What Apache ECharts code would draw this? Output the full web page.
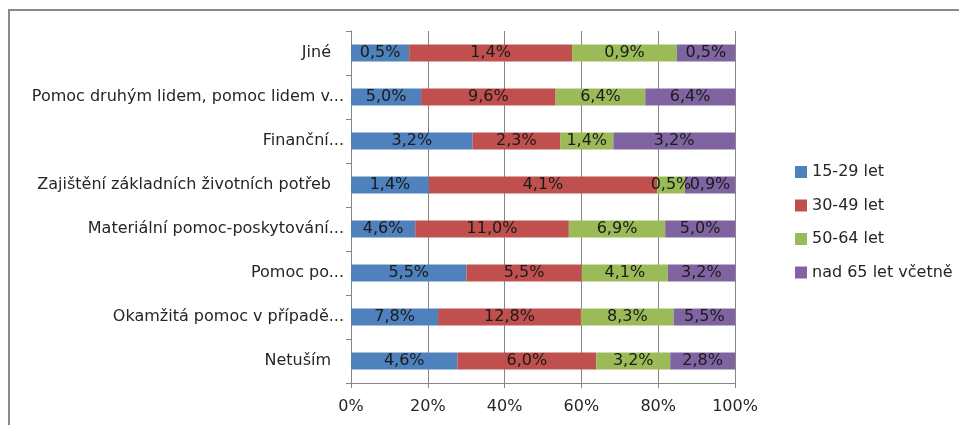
<!DOCTYPE html>
<html><head><meta charset="utf-8">
<script src="https://cdn.jsdelivr.net/npm/echarts@6/dist/echarts.min.js"></script>
<style>html,body{margin:0;padding:0;background:#fff}#c{width:959px;height:425px}</style>
</head><body><div id="c"></div>
<script>
var categories = ["Jiné", "Pomoc druhým lidem, pomoc lidem v...", "Finanční...", "Zajištění základních životních potřeb", "Materiální pomoc-poskytování...", "Pomoc po...", "Okamžitá pomoc v případě...", "Netuším"];
var seriesNames = ["15-29 let", "30-49 let", "50-64 let", "nad 65 let včetně"];
var s1529 = [0.5, 5.0, 3.2, 1.4, 4.6, 5.5, 7.8, 4.6];
var s3049 = [1.4, 9.6, 2.3, 4.1, 11.0, 5.5, 12.8, 6.0];
var s5064 = [0.9, 6.4, 1.4, 0.5, 6.9, 4.1, 8.3, 3.2];
var s65 = [0.5, 6.4, 3.2, 0.9, 5.0, 3.2, 5.5, 2.8];
var xTicks = ["0%", "20%", "40%", "60%", "80%", "100%"];
var colors = ["#4F81BD", "#C0504D", "#9BBB59", "#8064A2"];

var raw = [s1529, s3049, s5064, s65];
var totals = categories.map(function (_, i) { return raw.reduce(function (a, s) { return a + s[i]; }, 0); });
var font = "'DejaVu Sans', sans-serif";
var fs = 16;
var series = raw.map(function (arr, k) {
  return {
    name: seriesNames[k], type: 'bar', stack: 'all', barWidth: 17,
    itemStyle: { color: colors[k] },
    label: {
      show: true, position: 'inside', color: '#1a1a1a', fontFamily: font, fontSize: fs,
      formatter: function (p) { return arr[p.dataIndex].toFixed(1).replace('.', ',') + '%'; }
    },
    data: arr.map(function (v, i) { return v / totals[i] * 100; })
  };
});

var chart = echarts.init(document.getElementById('c'), null, { renderer: 'canvas' });
chart.setOption({
  animation: false,
  color: colors,
  graphic: [{ type: 'rect', shape: { x: 9, y: 10, width: 980, height: 440 }, style: { fill: 'none', stroke: '#8a8a8a', lineWidth: 2 } }],
  grid: { left: 351, right: 224, top: 31, bottom: 42 },
  legend: {
    orient: 'vertical', left: 790, top: 159, itemWidth: 12, itemHeight: 12, itemGap: 17.5,
    icon: 'rect', data: seriesNames,
    textStyle: { color: '#262626', fontFamily: font, fontSize: fs, lineHeight: 16 }
  },
  xAxis: {
    type: 'value', min: 0, max: 100, interval: 20,
    axisLine: { show: true, lineStyle: { color: '#868686' } },
    axisTick: { show: true, length: 5, lineStyle: { color: '#868686' } },
    splitLine: { show: true, lineStyle: { color: '#868686' } },
    axisLabel: { color: '#262626', fontFamily: font, fontSize: fs, margin: 16,
      formatter: function (v) { return xTicks[Math.round(v / 20)]; } }
  },
  yAxis: {
    type: 'category', inverse: true, data: categories,
    axisLine: { show: true, lineStyle: { color: '#868686' } },
    axisTick: { show: true, length: 5, lineStyle: { color: '#868686' } },
    axisLabel: { color: '#262626', fontFamily: font, fontSize: fs, margin: 7,
      formatter: function (v) { return /\.\.\.$/.test(v) ? v : '{p|' + v + '}'; },
      rich: { p: { color: '#262626', fontFamily: font, fontSize: fs, padding: [0, 13, 0, 0] } } }
  },
  series: series
});
</script></body></html>
